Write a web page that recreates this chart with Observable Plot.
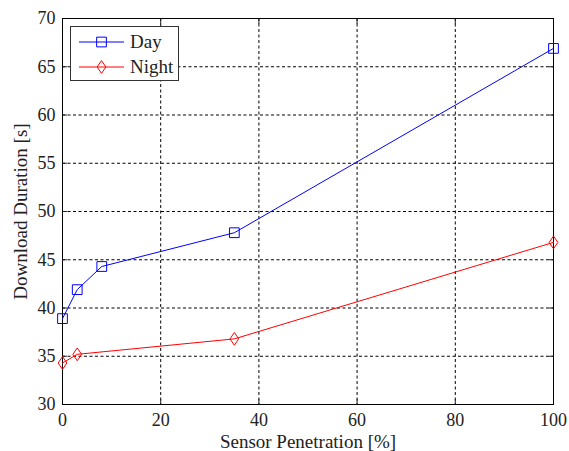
<!DOCTYPE html>
<html>
<head>
<meta charset="utf-8">
<script src="https://cdn.jsdelivr.net/npm/d3@7"></script>
<script src="https://cdn.jsdelivr.net/npm/@observablehq/plot@0.6"></script>
<style>
  html, body { margin: 0; padding: 0; background: #fff; }
  #wrap { position: relative; width: 569px; height: 451px; }
  #legend { position: absolute; left: 70px; top: 26px; width: 107px; height: 53px;
    border: 1px solid #333; background: #fff; font-family: 'Liberation Serif', 'DejaVu Serif', serif; font-size: 19px; }
</style>
</head>
<body>
<div id="wrap"></div>
<script>
const penetration = [0, 3, 8, 35, 100];
const dayValues = [38.9, 41.9, 44.3, 47.8, 66.9];
const nightPenetration = [0, 3, 35, 100];
const nightValues = [34.3, 35.2, 36.8, 46.8];
const seriesNames = ["Day", "Night"];
const xTicks = [0, 20, 40, 60, 80, 100];
const yTicks = [30, 35, 40, 45, 50, 55, 60, 65, 70];

const dayData = penetration.map((x, i) => ({x, y: dayValues[i], s: "Day"}));
const nightData = nightPenetration.map((x, i) => ({x, y: nightValues[i], s: "Night"}));

const narrowDiamond = {
  draw(ctx, size) {
    const h = Math.sqrt(size) * 0.6, w = h * 0.68;
    ctx.moveTo(0, -h); ctx.lineTo(w, 0); ctx.lineTo(0, h); ctx.lineTo(-w, 0); ctx.closePath();
  }
};

const font = "'Liberation Serif', 'DejaVu Serif', serif";
const chart = Plot.plot({
  width: 569, height: 451,
  marginLeft: 62, marginRight: 16, marginTop: 18, marginBottom: 47,
  style: {fontFamily: font, fontSize: "18px", color: "#222", background: "#fff"},
  x: {domain: [0, 100], ticks: xTicks},
  y: {domain: [30, 70], ticks: yTicks},
  marks: [
    Plot.gridX(xTicks, {stroke: "#000", strokeOpacity: 1, strokeDasharray: "3,2.5"}),
    Plot.gridY(yTicks, {stroke: "#000", strokeOpacity: 1, strokeDasharray: "3,2.5"}),
    Plot.axisX(xTicks, {tickSize: 0, tickPadding: 9, fontSize: 18, fontFamily: font, label: null}),
    Plot.axisY(yTicks, {tickSize: 0, tickPadding: 7, fontSize: 18, fontFamily: font, label: null}),
    Plot.axisX({tickSize: 0, ticks: [], fontSize: 19, fontFamily: font, label: "Sensor Penetration [%]", labelAnchor: "center", labelOffset: 43, labelArrow: "none"}),
    Plot.axisY({tickSize: 0, ticks: [], fontSize: 19, fontFamily: font, label: "Download Duration [s]", labelAnchor: "center", labelOffset: 49, labelArrow: "none"}),
    Plot.axisX(xTicks, {anchor: "bottom", tickSize: -5, text: null, label: null}),
    Plot.axisX(xTicks, {anchor: "top", tickSize: -5, text: null, label: null}),
    Plot.axisY(yTicks, {anchor: "left", tickSize: -5, text: null, label: null}),
    Plot.axisY(yTicks, {anchor: "right", tickSize: -5, text: null, label: null}),
    Plot.frame({stroke: "#000"}),
    Plot.line(dayData, {x: "x", y: "y", stroke: "#0000ff", strokeWidth: 1}),
    Plot.line(nightData, {x: "x", y: "y", stroke: "#ff0000", strokeWidth: 1}),
    Plot.dot(dayData, {x: "x", y: "y", symbol: "square", r: 5.5, stroke: "#0000ff", fill: "none", strokeWidth: 1}),
    Plot.dot(nightData, {x: "x", y: "y", symbol: narrowDiamond, r: 6, stroke: "#ff0000", fill: "none", strokeWidth: 1})
  ]
});

const wrap = document.getElementById("wrap");
wrap.appendChild(chart);

const legend = document.createElement("div");
legend.id = "legend";
const colors = ["#0000ff", "#ff0000"];
const sq = d3.symbol(d3.symbolSquare, Math.PI * 5.5 * 5.5)();
const dm = d3.symbol(narrowDiamond, Math.PI * 36)();
legend.innerHTML = seriesNames.map((name, i) => `
  <div style="position:absolute;left:8px;top:${5 + i * 25}px;height:20px;display:flex;align-items:center;">
    <svg width="45" height="20" style="overflow:visible">
      <line x1="0" x2="45" y1="10" y2="10" stroke="${colors[i]}" stroke-width="1"/>
      <path d="${i === 0 ? sq : dm}" transform="translate(22.5,10)" fill="none" stroke="${colors[i]}"/>
    </svg>
    <span style="margin-left:6px;color:#222">${name}</span>
  </div>`).join("");
wrap.appendChild(legend);
</script>
</body>
</html>
